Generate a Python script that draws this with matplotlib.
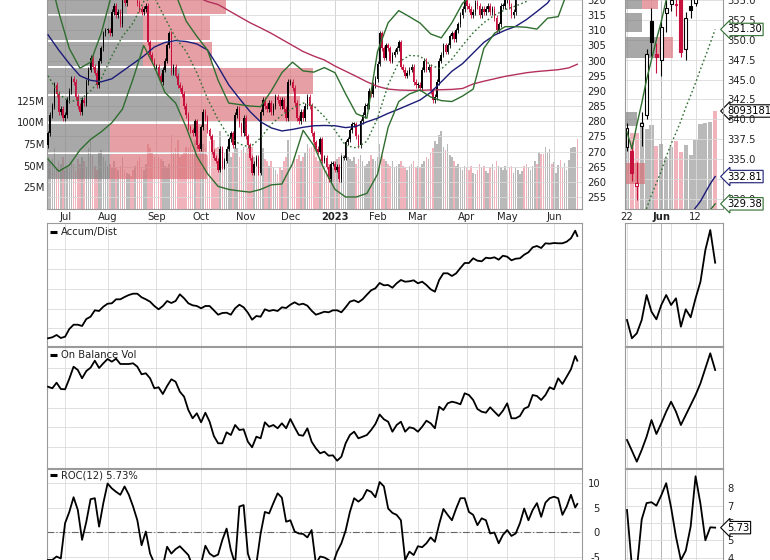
import numpy as np
import pandas as pd
import matplotlib
matplotlib.use("Agg")
import matplotlib.pyplot as plt
from matplotlib.patches import Rectangle
from matplotlib.transforms import blended_transform_factory as blend

plt.rcParams['font.family'] = ['DejaVu Sans']

# ---------------- data ----------------
holidays = ['2022-07-04', '2022-09-05', '2022-11-24', '2022-12-26', '2023-01-02',
            '2023-01-16', '2023-02-20', '2023-04-07', '2023-05-29']
days = pd.bdate_range('2022-06-21', '2023-06-16', freq='C', holidays=holidays)

first_open = 272.0
closes = [
    276, 282, 285, 292, 289, 283, 284, 281,
    282, 287, 290, 294, 293, 288, 285, 283, 287, 286, 293, 297, 301, 298, 296, 292, 300, 304, 309, 310,
    310, 309, 316, 318, 315, 316, 312, 320, 319, 325, 328, 327, 323, 324, 319, 317, 316, 317, 318, 306, 302, 300, 298,
    298, 295, 293, 297, 300, 305, 309, 296, 298, 295, 292, 291, 289, 285, 282, 278, 277, 276, 280, 272, 271,
    278, 283, 281, 277, 275, 270, 268, 267, 264, 271, 265, 267, 271, 274, 276, 272, 282, 284, 279, 276, 281,
    275, 272, 268, 263, 266, 268, 263, 283, 287, 285, 284, 286, 283, 285, 288, 287, 285, 287, 284, 281, 293,
    293, 291, 286, 281, 280, 283, 281, 285, 288, 285, 276, 273, 271, 270, 274, 267, 268, 265, 261, 266, 266,
    264, 265, 261, 268, 268, 273, 274, 277, 279, 279, 275, 272, 280, 282, 285, 285, 290, 289, 292, 294,
    299, 309, 304, 301, 305, 304, 300, 302, 303, 304, 306, 298, 297, 295, 296, 297, 298, 293, 292,
    292, 291, 297, 300, 297, 298, 290, 287, 288, 293, 300, 302, 305, 303, 305, 308, 309, 307, 310, 312, 315, 317, 320,
    318, 317, 315, 316, 319, 318, 315, 317, 316, 317, 318, 316, 317, 314, 310, 312, 318, 318, 320,
    320, 318, 315, 316, 324, 325, 326, 328, 327, 326, 331, 333, 335, 339, 338,
    338.9, 333.3, 332.0, 339.6, 348.2, 349.7, 347.8, 351.6, 354.0, 355.0, 354.5, 348.5, 352.7, 353.8,
    358.2, 361.5, 363.5, 368.0, 366.0]

volumes = [  # millions
    60, 55, 58, 70, 48, 55, 52, 60,
    45, 50, 48, 55, 52, 45, 58, 52, 60, 55, 48, 70, 78, 62, 50, 45, 65, 68, 60, 55,
    50, 52, 48, 55, 47, 45, 50, 60, 45, 42, 40, 38, 45, 50, 55, 60, 48, 45, 52, 75, 70, 65, 60,
    62, 60, 58, 55, 50, 48, 52, 85, 65, 70, 80, 60, 62, 65, 72, 70, 75, 68, 80, 72, 70,
    68, 75, 70, 62, 78, 72, 80, 70, 72, 90, 70, 65, 68, 75, 60, 65, 72, 70, 60, 68, 72,
    65, 70, 75, 72, 60, 55, 60, 95, 70, 58, 55, 50, 55, 48, 45, 40, 48, 45, 55, 60, 80,
    70, 55, 60, 58, 62, 55, 60, 65, 75, 70, 72, 80, 60, 55, 58, 60, 50, 45, 52, 50, 48,
    55, 58, 60, 65, 62, 55, 60, 58, 55, 60, 52, 58, 62, 55, 50, 52, 55, 62, 58, 55,
    60, 75, 62, 58, 55, 52, 50, 55, 48, 50, 52, 55, 50, 48, 45, 50, 52, 55, 48,
    50, 48, 52, 55, 60, 58, 65, 70, 78, 75, 85, 90, 72, 68, 75, 62, 60, 55, 50, 52, 48, 45, 50,
    48, 45, 50, 42, 40, 45, 52, 48, 50, 44, 42, 48, 52, 45, 55, 50, 48, 45, 50,
    45, 48, 50, 42, 48, 45, 40, 44, 50, 52, 48, 45, 50, 55, 52,
    66, 63, 63, 72, 66, 69, 52, 54, 42, 51, 56, 47, 53, 45, 57, 70, 71, 72, 80.931816]

# moving averages / bands, every 5th session plus the last one
ma_idx = list(range(0, 250, 5)) + [249]
sma200 = [345, 343.5, 342, 340.5, 339, 337.5, 336, 334.5, 333, 331, 329, 327, 325, 323, 321, 319.5,
          318.5, 316.5, 314.5, 312.5, 310.8, 309, 307, 305, 303, 301.5, 300.2, 298.2, 296.5, 294.8,
          293, 291.5, 290.6, 290.3, 290.2, 290.2, 290.3, 290.4, 290.5, 290.8, 292.3, 293.2, 294,
          294.8, 295.4, 296, 296.4, 296.7, 297, 297.6, 298.8]
sma50 = [308.5, 303.5, 299, 295, 293.5, 293, 294, 296.5, 299, 301.5, 304.5, 306, 306.6, 306.3, 305.5,
         303.5, 298, 292, 287.5, 283.2, 279.8, 277.8, 276.8, 277.3, 278, 278.5, 278.6, 278.5, 277.9,
         278.3, 279.8, 281, 282.6, 284, 285.5, 287, 289.5, 293, 296.5, 299, 302.5, 306, 308.4, 310,
         311.3, 313.5, 316.2, 319, 324, 328.9, 332.81]
sma20 = [295, 289, 286.5, 287, 290, 294, 301.5, 308, 312.4, 319.5, 321, 314, 307.5, 303, 296, 287.5,
         280.5, 275, 272.5, 271.4, 274.5, 279, 282, 284.2, 286, 285, 281.5, 277, 272, 271.2, 273.4,
         281, 292, 299.5, 301.7, 301.5, 298.5, 297.2, 300.5, 305, 309.2, 312.5, 315, 316.8, 318,
         319.5, 322.5, 328.8, 336.8, 344.6, 351.3]
bb_upper = [330, 316, 304, 297.5, 299.5, 309, 322, 330, 335, 338, 336, 332, 322, 313, 308, 303.5,
            293.5, 286, 285.5, 285, 284.8, 290, 296, 299.5, 296.6, 296.2, 297.7, 296, 289, 282.5, 281,
            303, 312.5, 316.5, 314.5, 312.4, 308.8, 307.5, 312.5, 318.9, 322, 324, 324, 324.5, 325,
            328, 336, 345, 357, 366, 373]
bb_lower = [267.5, 263.5, 265.5, 270.5, 274, 276.5, 279.5, 284, 294, 305, 298, 289.5, 286, 278, 268.5,
            262.7, 258.5, 257.5, 257, 256.6, 257.5, 259, 259.3, 266, 277, 272, 264, 257.5, 255, 255,
            256.2, 262.5, 278, 286.5, 289, 290.3, 288, 286.8, 286.5, 288.3, 290.6, 304, 309, 311.2,
            311.2, 311, 310.4, 314, 314.5, 324, 329.38]

# volume-by-price bins (price range, up / down volume in billions)
vbp_lo = [260.5, 269.5, 279.6, 288.7, 297.8, 306.6, 315.0]
vbp_hi = [269.5, 279.6, 288.7, 297.8, 306.6, 315.0, 324.0]
vbp_up = [1.26, 1.26, 2.66, 2.66, 1.92, 1.92, 1.60]
vbp_dn = [1.94, 1.94, 2.40, 2.66, 1.38, 1.34, 1.98]
vbp_full = 10.7

# indicators, every 2nd session plus the last one
ind_idx = list(range(0, 250, 2)) + [249]
ad_line = [7.7, 8.7, 11, 8, 9.3, 17, 21.3, 21.3, 20, 27, 29.3, 35.7, 35, 39.3, 42.3, 42.7, 46.7, 46.7,
           49, 51, 52.3, 52.3, 48.7, 46.7, 44.3, 40, 36.7, 40, 45, 43, 45, 51.7, 47.7, 42.7, 40.7, 40,
           37.7, 40, 40, 35.7, 31.3, 33, 33.3, 31.3, 37.7, 41.3, 38.7, 33.3, 26.3, 30, 29.3, 36.7, 35,
           36, 35, 38.7, 38, 41.3, 43.7, 41.3, 42.3, 40.3, 35.3, 31.3, 32.7, 34.3, 33.7, 35.7, 35.7,
           33.7, 38.7, 44.3, 45.7, 43.7, 46.7, 51.3, 55.7, 57.7, 63, 60.7, 61, 58.3, 62.7, 66, 64.3,
           64.7, 65.7, 62.7, 64.3, 61, 56.7, 54.3, 66, 72.7, 72.7, 70, 72.7, 78, 83, 83, 87.7, 85.3,
           84.7, 88.3, 87.7, 88.7, 86.3, 90.3, 89.3, 85.7, 87.3, 87.7, 91.3, 93.7, 98.7, 100, 98,
           102.7, 102.3, 103, 102.7, 102.7, 104.3, 107.7, 115.3, 110]
obv_line = [81.3, 79.7, 85.3, 79, 78.7, 89.3, 101.3, 98, 89.7, 97, 100.3, 107.3, 100, 104.7, 109, 106.3,
            109.3, 104, 104, 104, 104.7, 101.3, 93.7, 94.7, 89.7, 79.7, 80.7, 74, 82, 88.7, 86.3, 76.3,
            71.3, 58, 49.7, 54.7, 45.7, 55.3, 46.3, 32, 24.7, 24.7, 35.7, 33, 43, 38, 38.7, 26.3, 20.7,
            31.3, 29.7, 45.7, 41.3, 43, 39.7, 44.7, 39.7, 49, 40.7, 33, 32.3, 39.7, 26.3, 19.7, 14.7,
            16.3, 12.3, 12.7, 7.3, 11.3, 24.7, 33, 36.3, 29.7, 31.3, 33, 38, 44, 53.5, 48.7, 46.3, 36.3,
            43, 46.3, 36.3, 40.7, 39.7, 36.3, 41.3, 47.3, 44.7, 39.7, 61.3, 58, 64.7, 66.3, 65.3, 63.7,
            74.7, 73, 68, 59, 56.3, 55.3, 60.7, 56.3, 52, 57.3, 64.7, 49.7, 49.7, 52, 59.3, 61.3, 73,
            72, 68, 73, 80.7, 78.7, 89.7, 84, 91.3, 98.7, 112, 107.3]
roc_line = [-5.7, -5.7, -5.0, -5.4, 1.8, 4.1, 7.1, 4.5, -1.6, 2.1, 6.7, 6.9, 1.1, 5.9, 9.9, 8.9, 8.2, 7.6,
            9.3, 7.6, 5.2, 2.4, -2.7, 0.1, -4.4, -6.4, -7, -7, -3.0, -4.4, -3.5, -2.9, -3.8, -4.7, -7,
            -8, -6.5, -2.8, -4.4, -5, -4.6, -1.6, 0.7, -3.7, -6.5, 5.2, 5.5, -4.4, -7, -6.5, -0.3, 4.1,
            3.8, 5.9, 7.9, 7.0, 2.1, 2.4, 0.1, -0.3, -0.4, -1.1, 0.4, -6.5, -5, -5.2, -5.7, -6.5, -4.0,
            -2.3, 0.3, 4.1, 6.9, 6.2, 6.9, 8.6, 8.2, 7.1, 10.2, 9.3, 4.8, 3.9, 3.5, 2.4, -5.7, -4.0,
            -4.7, -2.9, -3.1, -2.3, -1.1, -2.0, 1.6, 4.7, 3.5, 2.4, 4.8, 6.9, 6.9, 4.1, 3.5, 1.4, 2.8,
            2.4, -0.3, -0.1, -2.3, -0.6, 0.4, -0.8, -0.3, 1.8, 4.8, 2.4, 4.5, 5.9, 3.1, 6.0, 6.9, 7.2,
            6.9, 3.5, 5.2, 7.6, 5.0, 5.73]

# right-hand zoom panel: May 22 .. Jun 16 2023
r_labels = {0: '22', 7: 'Jun', 14: '12'}
r_open = [336.5, 336.0, 331.6, 339.1, 340.6, 352.3, 348.2, 347.4, 353.4, 354.5, 354.4, 356.5, 348.8,
          354.2, 354.6, 360.0, 361.5, 362.0, 370.0]
r_high = [339.5, 337.2, 334.7, 340.9, 348.8, 354.0, 349.6, 352.5, 355.0, 356.0, 356.5, 357.0, 353.5,
          356.0, 358.5, 362.0, 364.0, 369.0, 371.0]
r_low = [336.0, 332.3, 329.8, 336.6, 340.0, 348.0, 345.8, 345.5, 351.0, 353.6, 353.0, 347.8, 347.5,
         352.7, 354.3, 358.0, 359.0, 361.0, 365.0]
r_bb_up = [338.4, 336.3, 339.3, 342, 345, 347.5, 350, 352.3, 355, 357, 359, 361, 363, 365, 366, 368,
           370, 372, 373]
r_sma20 = [322.4, 323.8, 325.1, 326.9, 328.8, 330.5, 332.0, 333.5, 335.3, 336.9, 338.3, 339.8, 341.5,
           343.0, 344.6, 346.3, 347.9, 349.6, 351.30]
r_sma50 = [316.7, 317.1, 317.7, 318.3, 319.0, 319.9, 320.9, 322.1, 323.0, 324.0, 325.1, 326.0, 326.9,
           328.0, 328.9, 329.7, 330.8, 331.9, 332.81]
r_bb_lo = [310.3, 310.8, 311.5, 312.6, 314.0, 314.2, 314.3, 314.4, 314.5, 314.5, 316.0, 318.0, 320.0,
           322.0, 324.0, 325.5, 327.0, 328.6, 329.38]
r_vbp_lo = [331.7, 339.0, 347.6, 350.8, 353.7]
r_vbp_hi = [334.7, 341.1, 350.5, 353.5, 356.5]
r_vbp_up = [0, 120, 320, 170, 170]
r_vbp_dn = [200, 0, 160, 0, 160]
r_vbp_full = 980
r_ad = [26, 7.7, 12.7, 26, 51, 34.3, 26.7, 41, 51, 41, 47.7, 19.3, 36.7, 28.7, 47.7, 64.3, 96, 116, 83.3]
r_obv = [28, 17.3, 6.3, 18, 31.3, 48, 34, 44.7, 56.3, 66.3, 56.3, 43, 53, 63, 73, 84.7, 99.7, 114.7, 98]
r_roc = [6.75, 3.5, 3.3, 6.2, 7.15, 7.2, 7.0, 7.6, 8.3, 6.9, 5.2, 3.85, 4.4, 5.8, 8.7, 7.1, 5.0, 5.75, 5.73]

# ---------------- styling ----------------
RED = '#c8103c'
GREEN = '#2f6e2f'
NAVY = '#1c1c78'
MAROON = '#b4305a'
VOL_UP, VOL_DN = '#b9b9b9', '#f0b3bb'
GRID = '#dadada'
SPINE = '#9a9a9a'
FS = 7.2

W, H = 770, 560
fig = plt.figure(figsize=(W / 100, H / 100), dpi=100)


def box(x0, y0, x1, y1):
    return [x0 / W, 1 - y1 / H, (x1 - x0) / W, (y1 - y0) / H]


def frame(ax):
    for s in ax.spines.values():
        s.set_color(SPINE)
        s.set_linewidth(0.8)
    ax.tick_params(labelsize=FS, colors='#222222', length=0)


n = len(closes)
assert len(days) == n == len(volumes)
x = np.arange(n)
c = np.array(closes, float)
o = np.r_[first_open, c[:-1]]
up = c >= o
month_pos = [i for i in range(1, n) if days[i].month != days[i - 1].month]
month_lab = ['2023' if days[i].month == 1 else days[i].strftime('%b') for i in month_pos]
XL = (-0.5, 251.2)

# ---------------- left price panel ----------------
axp = fig.add_axes(box(47, 0, 582, 209))
axv = axp.twinx()
axv.set_zorder(axp.get_zorder() - 1)
axp.patch.set_visible(False)
axv.bar(x, volumes, width=0.75, color=np.where(up, VOL_UP, VOL_DN), linewidth=0)
axv.set_ylim(0, 240.8)
axv.yaxis.tick_left()
axv.set_yticks([25, 50, 75, 100, 125], ['25M', '50M', '75M', '100M', '125M'])
axv.tick_params(labelsize=FS, colors='#222222', length=0, pad=2)
for s in axv.spines.values():
    s.set_visible(False)

trp = blend(axp.transAxes, axp.transData)
for lo, hi, u, d in zip(vbp_lo, vbp_hi, vbp_up, vbp_dn):
    axp.add_patch(Rectangle((0, lo + 0.35), u / vbp_full, hi - lo - 0.7, transform=trp,
                            color='#7a7a7a', alpha=0.65, lw=0, zorder=1))
    axp.add_patch(Rectangle((u / vbp_full, lo + 0.35), d / vbp_full, hi - lo - 0.7, transform=trp,
                            color='#d96d75', alpha=0.65, lw=0, zorder=1))

cols = np.where(up, 'black', RED)
axp.vlines(x, np.minimum(o, c) - 0.9, np.maximum(o, c) + 0.9, color=cols, lw=0.6, zorder=3)
hgt = np.where(np.abs(c - o) < 0.3, 0.3, c - o)
axp.bar(x, hgt, bottom=o, width=0.75, color=cols, linewidth=0, zorder=3)

axp.plot(ma_idx, sma200, color=MAROON, lw=1.0, zorder=4)
axp.plot(ma_idx, sma50, color=NAVY, lw=1.0, zorder=4)
axp.plot(ma_idx, bb_upper, color=GREEN, lw=1.0, zorder=4)
axp.plot(ma_idx, bb_lower, color=GREEN, lw=1.0, zorder=4)
axp.plot(ma_idx, sma20, color=GREEN, lw=1.0, ls=(0, (1.2, 1.8)), zorder=4)

axp.set_xlim(*XL)
axp.set_ylim(251.04, 318.9)
axp.yaxis.tick_right()
axp.set_yticks(range(255, 325, 5))
axp.set_xticks(month_pos, month_lab)
frame(axp)
axp.tick_params(axis='y', pad=4)
axp.tick_params(axis='x', pad=2)
for t in axp.get_xticklabels():
    if t.get_text() == '2023':
        t.set_fontweight('bold')
axp.grid(True, color=GRID, lw=0.6)
axp.set_axisbelow(True)
axp.spines['top'].set_visible(False)

# ---------------- right price panel ----------------
rk = np.arange(19)
rc = c[-19:]
rvol = np.array(volumes[-19:], float)
rprev = c[-20:-1]
axr = fig.add_axes(box(625, 0, 723, 209))
axrv = axr.twinx()
axrv.set_zorder(axr.get_zorder() - 1)
axr.patch.set_visible(False)
axrv.bar(rk, rvol, width=0.85, color=np.where(rc >= rprev, VOL_UP, VOL_DN), linewidth=0)
axrv.set_ylim(0, 172.6)
axrv.set_yticks([])
for s in axrv.spines.values():
    s.set_visible(False)

trr = blend(axr.transAxes, axr.transData)
for lo, hi, u, d in zip(r_vbp_lo, r_vbp_hi, r_vbp_up, r_vbp_dn):
    axr.add_patch(Rectangle((0, lo + 0.15), u / r_vbp_full, hi - lo - 0.3, transform=trr,
                            color='#7a7a7a', alpha=0.65, lw=0, zorder=1))
    axr.add_patch(Rectangle((u / r_vbp_full, lo + 0.15), d / r_vbp_full, hi - lo - 0.3, transform=trr,
                            color='#d96d75', alpha=0.65, lw=0, zorder=1))

for k in rk:
    ok, ck = r_open[k], rc[k]
    col = 'black' if ck >= rprev[k] else RED
    axr.vlines(k, r_low[k], r_high[k], color=col, lw=0.8, zorder=3)
    face = 'white' if ck >= ok else col
    axr.add_patch(Rectangle((k - 0.3, min(ok, ck)), 0.6, max(abs(ck - ok), 0.15),
                            facecolor=face, edgecolor=col, lw=0.8, zorder=3))

axr.plot(rk, r_sma50, color=NAVY, lw=1.0, zorder=4)
axr.plot(rk, r_bb_up, color=GREEN, lw=1.0, zorder=4)
axr.plot(rk, r_bb_lo, color=GREEN, lw=1.0, zorder=4)
axr.plot(rk, r_sma20, color=GREEN, lw=1.0, ls=(0, (1.2, 1.8)), zorder=4)

RXL = (-0.41, 19.6)
axr.set_xlim(*RXL)
axr.set_ylim(328.73, 354.34)
axr.yaxis.tick_right()
axr.set_yticks(np.arange(330, 356, 2.5), [f'{v:.1f}' for v in np.arange(330, 356, 2.5)])
axr.set_xticks(list(r_labels), list(r_labels.values()))
frame(axr)
axr.tick_params(axis='y', pad=3)
axr.tick_params(axis='x', pad=2)
for t in axr.get_xticklabels():
    if t.get_text() == 'Jun':
        t.set_fontweight('bold')
axr.grid(True, axis='y', color=GRID, lw=0.6)
axr.set_axisbelow(True)
axr.spines['top'].set_visible(False)


def tag(ax, y, txt, ec):
    ax.annotate(txt, xy=(1.0, y), xycoords=('axes fraction', 'data'), xytext=(3, 0),
                textcoords='offset points', va='center', ha='left', fontsize=FS,
                bbox=dict(boxstyle='larrow,pad=0.12', fc='white', ec=ec, lw=0.8),
                annotation_clip=False, zorder=10)


tag(axr, r_sma20[-1], f'{r_sma20[-1]:.2f}', GREEN)
tag(axr, r_sma50[-1], f'{r_sma50[-1]:.2f}', NAVY)
tag(axr, r_bb_lo[-1], f'{r_bb_lo[-1]:.2f}', GREEN)
tag(axrv, rvol[-1], f'{rvol[-1] * 1e6:.0f}', 'black')

r_vgrid = [0, 5, 7, 9, 14]


def vgrid(ax, pos, dark):
    for p in pos:
        ax.axvline(p, color='#a8a8a8' if p in dark else GRID, lw=0.6, zorder=0.5)


vgrid(axr, r_vgrid, [7])
vgrid(axp, month_pos, [month_pos[month_lab.index('2023')]])

# ---------------- indicator panels ----------------
yr2023 = [month_pos[month_lab.index('2023')]]


def panel(rect_l, rect_r, yl, ygrid, lx, ly, rx, ry, label, ylr=None):
    al = fig.add_axes(box(*rect_l))
    ar = fig.add_axes(box(*rect_r))
    al.plot(lx, ly, color='black', lw=1.3, zorder=3)
    ar.plot(rx, ry, color='black', lw=1.3, zorder=3)
    al.set_xlim(*XL)
    ar.set_xlim(*RXL)
    al.set_ylim(*yl)
    ar.set_ylim(*(ylr or yl))
    for a in (al, ar):
        frame(a)
        a.set_xticks([])
        a.set_yticks(ygrid if a is al else (ygrid if ylr is None else []))
        a.set_yticklabels([])
        a.grid(True, axis='y', color=GRID, lw=0.6)
        a.set_axisbelow(True)
    vgrid(al, month_pos, yr2023)
    vgrid(ar, r_vgrid, [7])
    yl_frac = 0.93
    al.plot([0.0056, 0.0187], [yl_frac, yl_frac], transform=al.transAxes, color='black', lw=2.2,
            solid_capstyle='butt', zorder=5)
    al.text(0.026, yl_frac, label, transform=al.transAxes, va='center', ha='left', fontsize=FS,
            color='#222222', zorder=5)
    return al, ar


panel((47, 223, 582, 346), (625, 223, 723, 346), (0, 123), [17.7, 37.2, 56.7, 76.7, 96.7],
      ind_idx, ad_line, rk, r_ad, 'Accum/Dist')
panel((47, 347, 582, 468), (625, 347, 723, 468), (0, 121), [21, 40.7, 60, 79.7, 99.7],
      ind_idx, obv_line, rk, r_obv, 'On Balance Vol')
roc_l, roc_r = panel((47, 469, 582, 560), (625, 469, 723, 560), (-5.71, 12.86), [-5, 0, 5, 10],
                     ind_idx, roc_line, rk, r_roc, f'ROC(12) {roc_line[-1]:.2f}%', ylr=(3.86, 9.12))
roc_l.axhline(0, color='#666666', lw=0.8, ls=(0, (6, 2, 1, 2)), zorder=2)
roc_l.yaxis.tick_right()
roc_l.set_yticks([-5, 0, 5, 10], ['-5', '0', '5', '10'])
roc_l.tick_params(axis='y', pad=13, length=0)
for t in roc_l.get_yticklabels():
    t.set_ha('right')
roc_r.yaxis.tick_right()
roc_r.set_yticks([4, 5, 6, 7, 8], ['4', '5', '6', '7', '8'])
roc_r.tick_params(axis='y', pad=3, length=0)
roc_r.grid(True, axis='y', color=GRID, lw=0.6)
for a in (roc_l, roc_r):
    a.spines['bottom'].set_visible(False)
tag(roc_r, r_roc[-1], f'{r_roc[-1]:.2f}', 'black')

fig.savefig('out.png', dpi=100)
